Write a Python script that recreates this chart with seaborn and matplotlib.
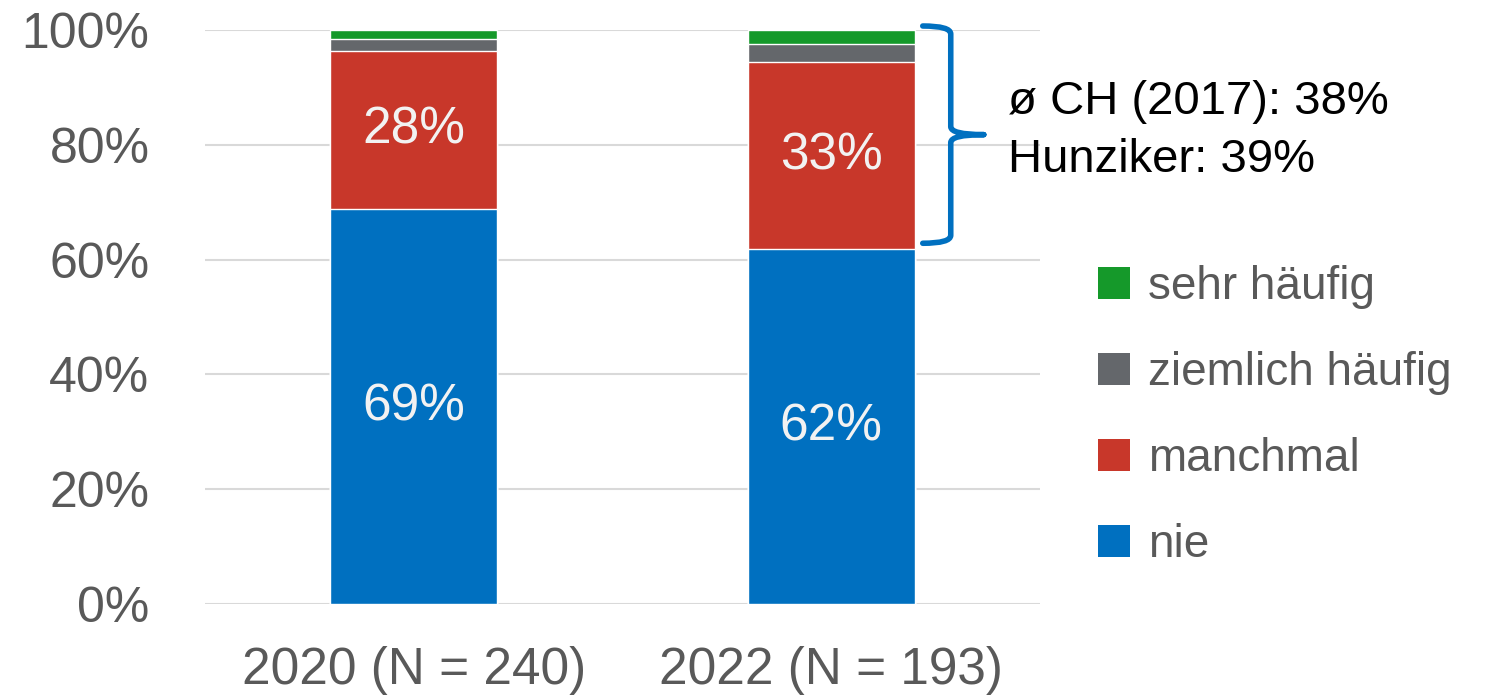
import numpy as np
import pandas as pd
import seaborn as sns
import matplotlib.pyplot as plt
from matplotlib.path import Path
from matplotlib.patches import PathPatch, Patch

# Data (shares per year)
years = ["2020 (N = 240)", "2022 (N = 193)"]
nie = [0.688, 0.618]
manchmal = [0.275, 0.326]
ziemlich = [0.021, 0.031]
sehr = [0.016, 0.025]
bar_labels_nie = ["69%", "62%"]
bar_labels_manchmal = ["28%", "33%"]
categories = ["sehr häufig", "ziemlich häufig", "manchmal", "nie"]
colors = ["#15992A", "#64676B", "#C8372A", "#0070C0"]
note = "ø CH (2017): 38%\nHunziker: 39%"

sns.set_theme(style="white")
plt.rcParams["font.family"] = ["Liberation Sans", "DejaVu Sans"]

df = pd.DataFrame({"year": years, "nie": nie, "manchmal": manchmal,
                   "ziemlich": ziemlich, "sehr": sehr})
# cumulative heights, drawn from the tallest down so segments stack
df["c_nie"] = df["nie"]
df["c_manchmal"] = df["c_nie"] + df["manchmal"]
df["c_ziemlich"] = df["c_manchmal"] + df["ziemlich"]
df["c_sehr"] = df["c_ziemlich"] + df["sehr"]

fig = plt.figure(figsize=(14.95, 7), dpi=100)
ax = fig.add_axes([205 / 1495, 1 - 604 / 700, 835 / 1495, 574 / 700])

for col, color in zip(["c_sehr", "c_ziemlich", "c_manchmal", "c_nie"], colors):
    sns.barplot(data=df, x="year", y=col, color=color, width=0.4,
                saturation=1, ax=ax, zorder=3)

# labels inside bars
for i in range(len(years)):
    ax.text(i, nie[i] / 2, bar_labels_nie[i], ha="center", va="center",
            fontsize=37, color="#F2F2F2", zorder=4)
    ax.text(i, nie[i] + manchmal[i] / 2, bar_labels_manchmal[i], ha="center",
            va="center", fontsize=37, color="#F2F2F2", zorder=4)

ax.set_xlim(-0.5, 1.5)
ax.set_ylim(0, 1)
ax.set_yticks(np.arange(0, 1.01, 0.2))
ax.set_yticklabels([f"{int(round(v * 100))}%" for v in np.arange(0, 1.01, 0.2)])
ax.yaxis.grid(True, color="#D9D9D9", linewidth=1.5, zorder=0)
ax.set_axisbelow(True)
ax.set_xlabel("")
ax.set_ylabel("")
for s in ax.spines.values():
    s.set_visible(False)
ax.tick_params(axis="y", length=0, pad=40, labelsize=36, labelcolor="#595959")
ax.tick_params(axis="x", length=0, pad=30, labelsize=37, labelcolor="#595959")

# curly bracket next to the 2022 bar
px = 1 / 417.5
py = 1 / 574
top = 1.0 + 4 * py
bot = nie[1] + 6 * py
mid = (top + bot) / 2
x0 = 1.2 + 8 * px
x1 = x0 + 28 * px
x2 = x1 + 33 * px
r = 8 * py
codes = [Path.MOVETO, Path.CURVE3, Path.CURVE3,
         Path.LINETO, Path.CURVE3, Path.CURVE3,
         Path.MOVETO, Path.CURVE3, Path.CURVE3,
         Path.LINETO, Path.CURVE3, Path.CURVE3]
verts = [(x0, top), (x1, top), (x1, top - r),
         (x1, mid + r), (x1, mid), (x2, mid),
         (x2, mid), (x1, mid), (x1, mid - r),
         (x1, bot + r), (x1, bot), (x0, bot)]
ax.add_patch(PathPatch(Path(verts, codes), facecolor="none", edgecolor="#0070C0",
                       linewidth=4, capstyle="round", joinstyle="round",
                       clip_on=False, zorder=5))

fig.text(1008 / 1495, 1 - 131 / 700, note, ha="left", va="center",
         fontsize=34, color="black", linespacing=1.4)

handles = [Patch(facecolor=c, edgecolor="none") for c in colors]
fig.legend(handles, categories, loc="center left",
           bbox_to_anchor=(1098 / 1495, 1 - 416 / 700), frameon=False,
           fontsize=33, labelcolor="#595959", handlelength=0.7,
           handleheight=0.7, handletextpad=0.4, labelspacing=0.92,
           borderpad=0, borderaxespad=0)

fig.savefig("out.png", dpi=100)
